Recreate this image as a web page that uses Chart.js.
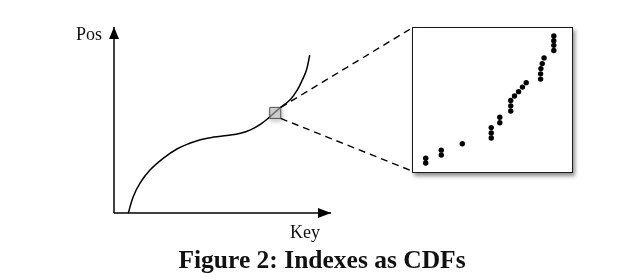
<!DOCTYPE html>
<html>
<head>
<meta charset="utf-8">
<script src="https://cdn.jsdelivr.net/npm/chart.js@4.4.1/dist/chart.umd.min.js"></script>
<style>
  html, body { margin: 0; padding: 0; background: #fff; }
  #wrap { position: relative; width: 623px; height: 280px; overflow: hidden; }
  #main { position: absolute; left: 0; top: 0; }
  #insetBox { position: absolute; box-sizing: border-box; border: 1.6px solid #1a1a1a;
              background: #fff; box-shadow: 2px 3px 4px rgba(0,0,0,0.45); }
  #inset { display: block; }
</style>
</head>
<body>
<div id="wrap">
  <canvas id="main" width="623" height="280"></canvas>
  <div id="insetBox"><canvas id="inset"></canvas></div>
</div>
<script>
// ---- data (diagram units: Key 0..100, Pos 0..100) ----
const curveKey = [6.6, 8.9, 12.0, 16.7, 22.8, 29.0, 35.2, 39.8, 45.9, 52.1, 58.3, 62.9, 67.6, 71.4, 76.0, 81.4, 84.5, 86.8, 88.7, 90.2];
const curvePos = [0, 8.9, 16.1, 23.2, 29.5, 34.4, 37.6, 39.4, 40.8, 41.7, 42.9, 44.7, 47.8, 51.3, 56.0, 61.2, 66.2, 71.6, 76.9, 84.9];
const zoomCenterKey = [74.3];
const zoomCenterPos = [53.8];
// zoomed-in keys/positions (inset units 0..100)
const zoomKey = [5.8, 5.8, 16.2, 16.2, 30.2, 49.5, 49.5, 49.5, 55.2, 55.2, 62.5, 62.5, 62.5, 65.0, 67.7, 70.3, 72.8, 82.4, 82.4, 82.6, 83.5, 84.7, 91.2, 91.2, 91.2, 91.2];
const zoomPos = [6.5, 3.0, 12.5, 8.8, 17.2, 29.2, 25.2, 21.5, 36.8, 32.8, 49.3, 45.3, 41.5, 52.6, 55.8, 59.2, 62.5, 65.1, 69.0, 72.9, 76.6, 80.8, 97.0, 93.5, 90.1, 86.3];
const axisLabels = { x: 'Key', y: 'Pos' };
const caption = 'Figure 2: Indexes as CDFs';

// ---- layout ----
const INSET = { left: 412, top: 27, width: 161, height: 146 };
const SQUARE_SIDE = 11;
const SERIF = '"Liberation Serif", "Times New Roman", serif';

const box = document.getElementById('insetBox');
box.style.left = INSET.left + 'px';
box.style.top = INSET.top + 'px';
box.style.width = INSET.width + 'px';
box.style.height = INSET.height + 'px';
const insetCanvas = document.getElementById('inset');
insetCanvas.width = INSET.width - 3;
insetCanvas.height = INSET.height - 3;

const pts = (xs, ys) => xs.map((x, i) => ({ x, y: ys[i] }));

const decorPlugin = {
  id: 'decor',
  beforeDatasetDraw(chart, args) {
    if (chart.data.datasets[args.index].label === 'zoom') {
      const ctx = chart.ctx;
      ctx.save();
      ctx.shadowColor = 'rgba(0,0,0,0.35)';
      ctx.shadowBlur = 4;
      ctx.shadowOffsetX = 1;
      ctx.shadowOffsetY = 2;
    }
  },
  afterDatasetDraw(chart, args) {
    if (chart.data.datasets[args.index].label === 'zoom') chart.ctx.restore();
  },
  afterDatasetsDraw(chart) {
    const ctx = chart.ctx;
    const xs = chart.scales.x, ys = chart.scales.y;
    const ox = xs.getPixelForValue(0), oy = ys.getPixelForValue(0);
    const tx = xs.getPixelForValue(100), ty = ys.getPixelForValue(100);
    ctx.save();
    // arrowheads
    ctx.fillStyle = '#000';
    ctx.beginPath();
    ctx.moveTo(ox, ty); ctx.lineTo(ox - 5, ty + 12); ctx.lineTo(ox + 5, ty + 12); ctx.closePath();
    ctx.fill();
    ctx.beginPath();
    ctx.moveTo(tx, oy); ctx.lineTo(tx - 13, oy - 5); ctx.lineTo(tx - 13, oy + 5); ctx.closePath();
    ctx.fill();
    // connectors from zoom square to inset box
    const sx = xs.getPixelForValue(zoomCenterKey[0]) + SQUARE_SIDE / 2;
    const syc = ys.getPixelForValue(zoomCenterPos[0]);
    ctx.strokeStyle = '#000';
    ctx.lineWidth = 1.4;
    ctx.setLineDash([7, 5]);
    ctx.beginPath();
    ctx.moveTo(sx, syc - SQUARE_SIDE / 2); ctx.lineTo(INSET.left, INSET.top + 1);
    ctx.moveTo(sx, syc + SQUARE_SIDE / 2); ctx.lineTo(INSET.left, INSET.top + INSET.height - 2);
    ctx.stroke();
    ctx.setLineDash([]);
    // labels
    ctx.fillStyle = '#111';
    ctx.font = '18px ' + SERIF;
    ctx.textBaseline = 'alphabetic';
    ctx.textAlign = 'right';
    ctx.fillText(axisLabels.y, ox - 12, ty + 13);
    ctx.textAlign = 'center';
    ctx.fillText(axisLabels.x, tx - 26, oy + 25);
    ctx.font = 'bold 25.5px ' + SERIF;
    ctx.fillText(caption, 322, 268);
    ctx.restore();
  }
};

new Chart(document.getElementById('main'), {
  type: 'scatter',
  data: {
    datasets: [
      { label: 'zoom', data: pts(zoomCenterKey, zoomCenterPos), order: 0,
        pointStyle: 'rect', pointRadius: SQUARE_SIDE / Math.SQRT2, borderWidth: 1,
        backgroundColor: 'rgba(205,205,205,0.55)', borderColor: '#555', clip: false },
      { label: 'cdf', type: 'line', data: pts(curveKey, curvePos), order: 1,
        borderColor: '#000', borderWidth: 1.5, pointRadius: 0, fill: false,
        tension: 0.4, clip: false },
      { label: 'yaxis', type: 'line', data: [{ x: 0, y: 0 }, { x: 0, y: 100 }], order: 2,
        borderColor: '#000', borderWidth: 1.5, pointRadius: 0, clip: false },
      { label: 'xaxis', type: 'line', data: [{ x: 0, y: 0 }, { x: 100, y: 0 }], order: 2,
        borderColor: '#000', borderWidth: 1.5, pointRadius: 0, clip: false }
    ]
  },
  options: {
    responsive: false,
    animation: false,
    devicePixelRatio: 1,
    layout: { padding: { left: 114, right: 292, top: 27, bottom: 67 } },
    scales: {
      x: { type: 'linear', min: 0, max: 100, display: false },
      y: { type: 'linear', min: 0, max: 100, display: false }
    },
    plugins: { legend: { display: false }, tooltip: { enabled: false }, title: { display: false } },
    events: []
  },
  plugins: [decorPlugin]
});

new Chart(insetCanvas, {
  type: 'scatter',
  data: {
    datasets: [
      { label: 'keys', data: pts(zoomKey, zoomPos), pointRadius: 2.7,
        backgroundColor: '#000', borderColor: '#000', borderWidth: 0, clip: false }
    ]
  },
  options: {
    responsive: false,
    animation: false,
    devicePixelRatio: 1,
    layout: { padding: 0 },
    scales: {
      x: { type: 'linear', min: 0, max: 100, display: false },
      y: { type: 'linear', min: 0, max: 100, display: false }
    },
    plugins: { legend: { display: false }, tooltip: { enabled: false } },
    events: []
  }
});
</script>
</body>
</html>
